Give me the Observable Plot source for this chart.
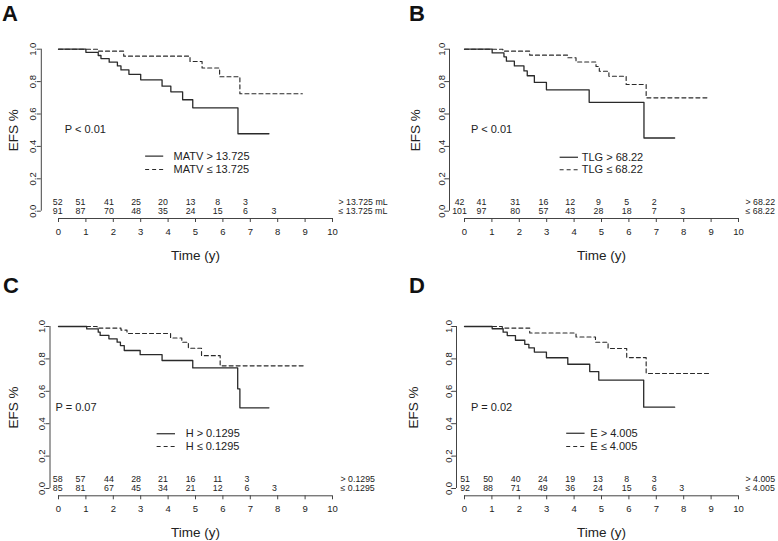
<!DOCTYPE html>
<html><head><meta charset="utf-8">
<script src="https://cdn.jsdelivr.net/npm/d3@7"></script>
<script src="https://cdn.jsdelivr.net/npm/@observablehq/plot@0.6"></script>
<style>
html,body{margin:0;padding:0;background:#fff;}
#page{position:relative;width:778px;height:541px;overflow:hidden;font-family:"Liberation Sans",Arial,Helvetica,sans-serif;background:#fff;}
.panel{position:absolute;}
.letter{position:absolute;font-weight:bold;font-size:22px;line-height:22px;color:#111;font-family:"Liberation Sans",Arial,Helvetica,sans-serif;}
</style></head><body><div id="page"></div>
<script>
// ---------- data ----------
const xTicks = [0,1,2,3,4,5,6,7,8,9,10];
const yTicks = [0,0.2,0.4,0.6,0.8,1.0];

// Panel A (MATV)
const A_hi_t = [0, 1.0, 1.45, 1.55, 1.85, 2.15, 2.28, 2.57, 3.0, 3.78, 4.1, 4.53, 4.9, 6.55, 7.68];
const A_hi_s = [1, 0.981, 0.961, 0.942, 0.92, 0.897, 0.872, 0.845, 0.811, 0.772, 0.737, 0.688, 0.638, 0.478, 0.478];
const A_lo_t = [0, 1.45, 2.38, 4.8, 5.24, 5.88, 6.62, 8.9];
const A_lo_s = [1, 0.988, 0.957, 0.924, 0.884, 0.83, 0.725, 0.725];
const A_risk_hi = [52, 51, 41, 25, 20, 13, 8, 3];
const A_risk_lo = [91, 87, 70, 48, 35, 24, 15, 6, 3];
const A_risk_t = [-0.03, 0.8, 1.84, 2.83, 3.81, 4.82, 5.81, 6.82, 7.86];
const A_legend = ["MATV > 13.725", "MATV \u2264 13.725"];
const A_groups = ["> 13.725 mL", "\u2264 13.725 mL"];
const A_p = "P < 0.01";

// Panel B (TLG)
const B_hi_t = [0, 1.01, 1.44, 1.53, 1.82, 2.17, 2.29, 2.55, 2.99, 4.55, 6.55, 7.67];
const B_hi_s = [1, 0.977, 0.953, 0.926, 0.897, 0.866, 0.836, 0.795, 0.749, 0.672, 0.452, 0.452];
const B_lo_t = [0, 1.4, 2.38, 3.77, 4.07, 4.8, 4.92, 5.27, 5.9, 6.63, 8.93];
const B_lo_s = [1, 0.988, 0.963, 0.947, 0.921, 0.893, 0.864, 0.833, 0.782, 0.7, 0.7];
const B_risk_hi = [42, 41, 31, 16, 12, 9, 5, 2];
const B_risk_lo = [101, 97, 80, 57, 43, 28, 18, 7, 3];
const B_risk_t = [-0.18, 0.62, 1.85, 2.88, 3.86, 4.89, 5.92, 6.92, 7.96];
const B_legend = ["TLG > 68.22", "TLG \u2264 68.22"];
const B_groups = ["> 68.22", "\u2264 68.22"];
const B_p = "P < 0.01";

// Panel C (H)
const C_hi_t = [0, 1.03, 1.45, 1.52, 1.84, 2.14, 2.26, 2.4, 2.98, 3.78, 4.9, 6.54, 6.62, 7.68];
const C_hi_s = [1, 0.985, 0.965, 0.945, 0.924, 0.903, 0.882, 0.852, 0.826, 0.79, 0.744, 0.615, 0.498, 0.498];
const C_lo_t = [0, 1.41, 2.28, 2.5, 4.09, 4.5, 4.74, 5.22, 5.9, 8.95];
const C_lo_s = [1, 0.99, 0.978, 0.957, 0.929, 0.903, 0.866, 0.82, 0.757, 0.757];
const C_risk_hi = [58, 57, 44, 28, 21, 16, 11, 3];
const C_risk_lo = [85, 81, 67, 45, 34, 21, 12, 6, 3];
const C_risk_t = [-0.03, 0.8, 1.84, 2.83, 3.81, 4.82, 5.81, 6.88, 7.88];
const C_legend = ["H > 0.1295", "H \u2264 0.1295"];
const C_groups = ["> 0.1295", "\u2264 0.1295"];
const C_p = "P = 0.07";

// Panel D (E)
const D_hi_t = [0, 1.01, 1.41, 1.56, 1.86, 2.2, 2.35, 2.55, 2.99, 3.77, 4.57, 4.9, 6.54, 7.67];
const D_hi_s = [1, 0.986, 0.965, 0.944, 0.915, 0.89, 0.868, 0.842, 0.807, 0.767, 0.722, 0.669, 0.502, 0.502];
const D_lo_t = [0, 1.38, 2.38, 4.07, 4.78, 5.24, 5.92, 6.63, 8.93];
const D_lo_s = [1, 0.99, 0.96, 0.935, 0.903, 0.864, 0.808, 0.71, 0.71];
const D_risk_hi = [51, 50, 40, 24, 19, 13, 8, 3];
const D_risk_lo = [92, 88, 71, 49, 36, 24, 15, 6, 3];
const D_risk_t = [0.02, 0.86, 1.87, 2.86, 3.86, 4.87, 5.92, 6.92, 7.93];
const D_legend = ["E > 4.005", "E \u2264 4.005"];
const D_groups = ["> 4.005", "\u2264 4.005"];
const D_p = "P = 0.02";

// ---------- layout / style ----------
const FONT = '"Liberation Sans", Arial, Helvetica, sans-serif';
const INK = "#222", AXIS = "#444", CURVE = "#2a2a2a";
const RISK_FS = 8.8, ROW1_DY = -8.9, ROW2_DY = -0.2;

const panels = [
  {letter:"A", left:0, top:0, width:388, height:270, mL:58, mR:56, mT:48.7, mB:59.3,
   yAxisDx:-17.2, efsDx:-44.7, rightDx:6,
   hiT:A_hi_t, hiS:A_hi_s, loT:A_lo_t, loS:A_lo_s, rHi:A_risk_hi, rLo:A_risk_lo, rT:A_risk_t,
   legend:A_legend, groups:A_groups, p:A_p, pPos:[0.23,0.504], leg:{x1:3.18,x2:3.84,tx:4.2,y:[0.34,0.257]},
   letterPos:[2,3]},
  {letter:"B", left:388, top:0, width:390, height:270, mL:76, mR:40, mT:48.7, mB:59.3,
   yAxisDx:-15, efsDx:-49.3, rightDx:7,
   hiT:B_hi_t, hiS:B_hi_s, loT:B_lo_t, loS:B_lo_s, rHi:B_risk_hi, rLo:B_risk_lo, rT:B_risk_t,
   legend:B_legend, groups:B_groups, p:B_p, pPos:[0.24,0.504], leg:{x1:3.49,x2:4.16,tx:4.28,y:[0.333,0.256]},
   letterPos:[21,3]},
  {letter:"C", left:0, top:270, width:388, height:271, mL:58, mR:56, mT:56, mB:53,
   yAxisDx:-8.5, efsDx:-44.7, rightDx:8,
   hiT:C_hi_t, hiS:C_hi_s, loT:C_lo_t, loS:C_lo_s, rHi:C_risk_hi, rLo:C_risk_lo, rT:C_risk_t,
   legend:C_legend, groups:C_groups, p:C_p, pPos:[-0.11,0.502], leg:{x1:3.6,x2:4.27,tx:4.64,y:[0.338,0.259]},
   letterPos:[3,5.4]},
  {letter:"D", left:388, top:270, width:390, height:271, mL:76, mR:40, mT:56, mB:53,
   yAxisDx:-8, efsDx:-51, rightDx:7,
   hiT:D_hi_t, hiS:D_hi_s, loT:D_lo_t, loS:D_lo_s, rHi:D_risk_hi, rLo:D_risk_lo, rT:D_risk_t,
   legend:D_legend, groups:D_groups, p:D_p, pPos:[0.24,0.502], leg:{x1:3.73,x2:4.4,tx:4.59,y:[0.341,0.259]},
   letterPos:[21,5.4]}
];

const page = document.getElementById("page");

for (const P of panels) {
  const hi = P.hiT.map((t,i)=>({t, s:P.hiS[i]}));
  const lo = P.loT.map((t,i)=>({t, s:P.loS[i]}));
  const riskHi = P.rHi.map((n,i)=>({t:P.rT[i], n}));
  const riskLo = P.rLo.map((n,i)=>({t:P.rT[i], n}));
  const axisDy = 7.3;

  const chart = Plot.plot({
    width: P.width, height: P.height,
    marginLeft: P.mL, marginRight: P.mR, marginTop: P.mT, marginBottom: P.mB,
    x: {domain:[0,10]},
    y: {domain:[0,1]},
    style: {fontFamily: FONT, color: INK, background: "white", overflow: "visible"},
    marks: [
      // y axis
      Plot.ruleX([0], {y1:0, y2:1, dx:P.yAxisDx, stroke:AXIS, strokeWidth:1}),
      Plot.axisY(yTicks, {tickSize:4, tickFormat:()=>"", dx:P.yAxisDx, label:null, stroke:AXIS}),
      Plot.text(yTicks, {y:d=>d, frameAnchor:"left", text:d=>d.toFixed(1), rotate:-90,
        dx:P.yAxisDx-8, fontSize:9.5, textAnchor:"middle", lineAnchor:"middle", fill:INK}),
      Plot.text(["EFS %"], {frameAnchor:"left", text:d=>d, rotate:-90, dx:P.efsDx,
        fontSize:13.5, textAnchor:"middle", lineAnchor:"middle", fill:INK}),
      // x axis
      Plot.ruleY([0], {x1:0, x2:10, dy:axisDy, stroke:AXIS, strokeWidth:1}),
      Plot.axisX(xTicks, {tickSize:4, tickFormat:()=>"", dy:axisDy, label:null, stroke:AXIS}),
      Plot.text(xTicks, {x:d=>d, frameAnchor:"bottom", text:d=>String(d), dy:axisDy+13,
        fontSize:9.5, lineAnchor:"middle", fill:INK}),
      Plot.text(["Time (y)"], {frameAnchor:"bottom", text:d=>d, dy:44.3, fontSize:13.5,
        lineAnchor:"middle", fill:INK}),
      // numbers at risk
      Plot.text(riskHi, {x:"t", y:0, text:"n", dy:ROW1_DY, fontSize:RISK_FS, lineAnchor:"middle", fill:INK}),
      Plot.text(riskLo, {x:"t", y:0, text:"n", dy:ROW2_DY, fontSize:RISK_FS, lineAnchor:"middle", fill:INK}),
      Plot.text([P.groups[0]], {frameAnchor:"right", y:0, text:d=>d, dx:P.rightDx, dy:ROW1_DY,
        textAnchor:"start", fontSize:RISK_FS, lineAnchor:"middle", fill:INK}),
      Plot.text([P.groups[1]], {frameAnchor:"right", y:0, text:d=>d, dx:P.rightDx, dy:ROW2_DY,
        textAnchor:"start", fontSize:RISK_FS, lineAnchor:"middle", fill:INK}),
      // curves
      Plot.line(lo, {x:"t", y:"s", curve:"step-after", stroke:CURVE, strokeWidth:1.15, strokeDasharray:"4,3"}),
      Plot.line(hi, {x:"t", y:"s", curve:"step-after", stroke:CURVE, strokeWidth:1.3}),
      // p value
      Plot.text([P.p], {x:P.pPos[0], y:P.pPos[1], text:d=>d, textAnchor:"start", fontSize:11,
        lineAnchor:"middle", fill:INK}),
      // legend
      Plot.ruleY([P.leg.y[0]], {x1:P.leg.x1, x2:P.leg.x2, stroke:CURVE, strokeWidth:1.2}),
      Plot.ruleY([P.leg.y[1]], {x1:P.leg.x1, x2:P.leg.x2, stroke:CURVE, strokeWidth:1.1, strokeDasharray:"4,3"}),
      Plot.text(P.legend, {x:P.leg.tx, y:(d,i)=>P.leg.y[i], text:d=>d, textAnchor:"start",
        fontSize:11, lineAnchor:"middle", fill:INK})
    ]
  });

  const wrap = document.createElement("div");
  wrap.className = "panel";
  wrap.style.left = P.left + "px";
  wrap.style.top = P.top + "px";
  wrap.style.width = P.width + "px";
  wrap.style.height = P.height + "px";
  wrap.appendChild(chart);
  const lab = document.createElement("div");
  lab.className = "letter";
  lab.textContent = P.letter;
  lab.style.left = P.letterPos[0] + "px";
  lab.style.top = P.letterPos[1] + "px";
  wrap.appendChild(lab);
  page.appendChild(wrap);
}
</script>
</body></html>
